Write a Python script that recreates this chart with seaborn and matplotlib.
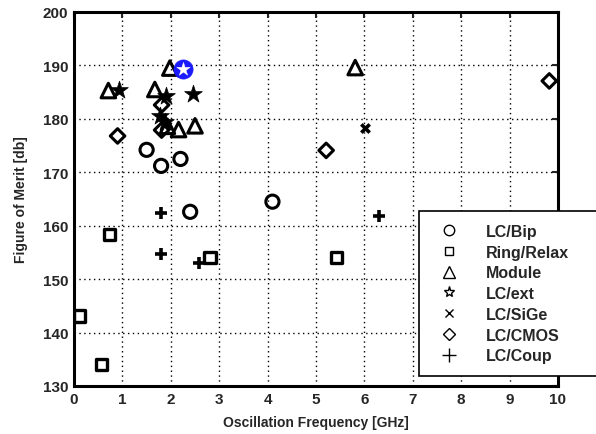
import matplotlib
matplotlib.use("Agg")
import matplotlib.pyplot as plt
import seaborn as sns
import pandas as pd
from matplotlib.lines import Line2D

# ---- data ----
lcbip_x = [1.50, 1.80, 2.20, 2.40, 4.10]
lcbip_y = [174.2, 171.2, 172.5, 162.6, 164.5]

ring_x = [0.11, 0.57, 0.74, 2.81, 5.43]
ring_y = [143.1, 134.0, 158.3, 154.1, 154.1]

module_x = [0.71, 1.67, 1.98, 5.81, 1.93, 2.16, 2.50]
module_y = [185.3, 185.5, 189.5, 189.6, 178.6, 178.0, 178.7]

lcext_x = [0.94, 1.91, 2.45, 1.78, 1.88]
lcext_y = [185.4, 184.3, 184.6, 180.6, 179.5]

sige_x = [6.01]
sige_y = [178.2]

cmos_x = [0.90, 1.81, 1.81, 5.21, 9.82]
cmos_y = [176.8, 182.6, 177.9, 174.1, 187.1]

coup_x = [1.80, 1.80, 2.59, 6.30]
coup_y = [162.4, 154.7, 153.1, 161.9]

highlight_x = [2.25]
highlight_y = [189.3]

categories = ["LC/Bip", "Ring/Relax", "Module", "LC/ext", "LC/SiGe", "LC/CMOS", "LC/Coup"]
series = {
    "LC/Bip": (lcbip_x, lcbip_y),
    "Ring/Relax": (ring_x, ring_y),
    "Module": (module_x, module_y),
    "LC/ext": (lcext_x, lcext_y),
    "LC/SiGe": (sige_x, sige_y),
    "LC/CMOS": (cmos_x, cmos_y),
    "LC/Coup": (coup_x, coup_y),
}
xticks = list(range(0, 11))
yticks = list(range(130, 201, 10))

# ---- style ----
sns.set_style("white")
plt.rcParams["font.family"] = ["Liberation Sans", "DejaVu Sans"]
plt.rcParams["font.weight"] = "bold"

fig = plt.figure(figsize=(5.96, 4.35), dpi=100)
ax = fig.add_axes([74 / 596, 1 - 387 / 435, (558 - 74) / 596, (387 - 13) / 435])

styles = {
    "LC/Bip": dict(marker="o", s=90, facecolors="none", edgecolor="black", linewidth=2.2),
    "Ring/Relax": dict(marker="s", s=65, facecolors="none", edgecolor="black", linewidth=2.4),
    "Module": dict(marker="^", s=110, facecolors="none", edgecolor="black", linewidth=2.2),
    "LC/ext": dict(marker="*", s=180, color="black", edgecolor="black", linewidth=0.5),
    "LC/SiGe": dict(marker="x", s=36, color="black", linewidth=2.6),
    "LC/CMOS": dict(marker="D", s=55, facecolors="none", edgecolor="black", linewidth=2.2),
    "LC/Coup": dict(marker="+", s=85, color="black", linewidth=2.6),
}

for cat in categories:
    xs, ys = series[cat]
    df = pd.DataFrame({"x": xs, "y": ys})
    sns.scatterplot(data=df, x="x", y="y", ax=ax, legend=False, zorder=3, **styles[cat])

hdf = pd.DataFrame({"x": highlight_x, "y": highlight_y})
sns.scatterplot(data=hdf, x="x", y="y", ax=ax, marker="o", s=190, color="#1a1aff",
                edgecolor="#1a1aff", linewidth=0.5, legend=False, zorder=4)
sns.scatterplot(data=hdf, x="x", y="y", ax=ax, marker="*", s=105, color="white",
                edgecolor="white", linewidth=0.3, legend=False, zorder=5)

ax.set_xlim(0, 10)
ax.set_ylim(130, 200)
ax.set_xticks(xticks)
ax.set_yticks(yticks)
ax.set_xticklabels([str(t) for t in xticks], fontsize=11, fontweight="bold")
ax.set_yticklabels([str(t) for t in yticks], fontsize=11, fontweight="bold")
ax.tick_params(direction="in", length=4, width=1.5, top=True, right=True, pad=4)
ax.grid(True, linestyle=(0, (1, 2.5)), color="black", linewidth=1.0)
ax.set_axisbelow(True)
for sp in ax.spines.values():
    sp.set_linewidth(2.2)
    sp.set_color("black")
    sp.set_visible(True)

ax.set_xlabel("Oscillation Frequency [GHz]", fontsize=10, fontweight="bold", labelpad=7)
ax.set_ylabel("Figure of Merit [db]", fontsize=10, fontweight="bold", labelpad=11)

handles = [
    Line2D([], [], linestyle="none", marker="o", markersize=7.5, markerfacecolor="none", markeredgecolor="black", markeredgewidth=1),
    Line2D([], [], linestyle="none", marker="s", markersize=6, markerfacecolor="none", markeredgecolor="black", markeredgewidth=1),
    Line2D([], [], linestyle="none", marker="^", markersize=8.5, markerfacecolor="none", markeredgecolor="black", markeredgewidth=1),
    Line2D([], [], linestyle="none", marker="*", markersize=8, markerfacecolor="none", markeredgecolor="black", markeredgewidth=1),
    Line2D([], [], linestyle="none", marker="x", markersize=6, markeredgecolor="black", markeredgewidth=1),
    Line2D([], [], linestyle="none", marker="D", markersize=6.5, markerfacecolor="none", markeredgecolor="black", markeredgewidth=1),
    Line2D([], [], linestyle="none", marker="+", markersize=10, markeredgecolor="black", markeredgewidth=1),
]
leg = fig.legend(handles, categories, loc="upper left",
                 bbox_to_anchor=(419 / 596, 0.05, 0.35, 1 - 212 / 435 - 0.05),
                 bbox_transform=fig.transFigure, mode="expand",
                 frameon=True, fancybox=False, edgecolor="black", framealpha=1,
                 prop={"size": 11.5, "weight": "bold"}, handletextpad=1.3, labelspacing=0.36,
                 borderpad=0.8, borderaxespad=0, handlelength=2.1)
leg.get_frame().set_linewidth(1.2)
leg.set_zorder(10)

fig.savefig("out.png", dpi=100)
